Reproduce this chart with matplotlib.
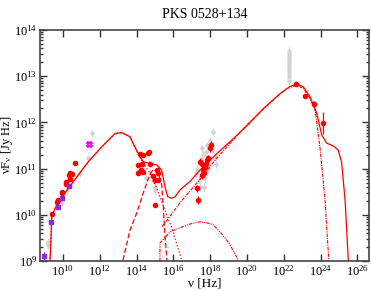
import numpy as np
import matplotlib
matplotlib.use("Agg")
import matplotlib.pyplot as plt
from matplotlib.ticker import LogLocator, NullLocator, NullFormatter

plt.rcParams['font.family'] = ['Liberation Serif', 'DejaVu Serif']
plt.rcParams['mathtext.fontset'] = 'stix'

# model curves, log10(nu) and log10(nuFnu)
tot_x = [9.29, 9.33, 9.39, 9.57, 9.93, 10.29, 10.83, 11.38, 12.10, 12.83, 13.19, 13.64, 14.0, 14.18,
         14.36, 14.73, 15.09, 15.36, 15.54, 15.69, 15.91, 16.09, 16.36, 16.9, 17.45, 18.3, 19.18, 19.98,
         20.89, 21.79, 22.34, 22.7, 23.06, 23.42, 23.79, 24.06, 24.33, 24.69, 24.96, 25.14, 25.33, 25.51]
tot_y = [8.98, 9.31, 9.96, 10.14, 10.39, 10.57, 10.86, 11.15, 11.47, 11.76, 11.78, 11.69, 11.40, 11.26,
         11.15, 11.11, 11.08, 10.97, 10.61, 10.39, 10.36, 10.39, 10.54, 10.72, 10.97, 11.3, 11.62, 11.92,
         12.3, 12.62, 12.78, 12.83, 12.77, 12.56, 12.20, 11.73, 11.55, 11.49, 11.40, 11.14, 10.32, 8.98]

syn_x = [9.29, 9.33, 9.39, 9.57, 9.93, 10.29, 10.83, 11.38, 12.10, 12.83, 13.19, 13.64, 14.0, 14.36,
         14.73, 15.09, 15.45, 15.9, 16.45]
syn_y = [8.98, 9.31, 9.96, 10.14, 10.39, 10.57, 10.86, 11.15, 11.47, 11.76, 11.78, 11.68, 11.37, 11.12,
         10.9, 10.58, 10.2, 9.73, 9.02]

disk_x = [13.26, 13.64, 14.0, 14.36, 14.73, 14.9, 15.09, 15.27, 15.36, 15.45, 15.54, 15.65]
disk_y = [9.02, 9.67, 10.03, 10.47, 10.88, 10.98, 10.94, 10.8, 10.66, 10.18, 9.56, 9.02]

ec_x = [15.38, 16.36, 17.45, 18.3, 19.24, 20.0, 21.0, 21.8, 22.3, 22.7, 23.06, 23.42, 23.7, 23.97,
        24.24, 24.45]
ec_y = [9.74, 10.26, 10.77, 11.2, 11.62, 11.95, 12.33, 12.62, 12.76, 12.8, 12.74, 12.52, 12.27, 11.45,
        10.32, 8.98]

ssc_x = [15.27, 15.27, 15.82, 16.36, 16.9, 17.45, 17.99, 18.17, 18.53, 18.9, 19.08, 19.53]
ssc_y = [9.0, 9.39, 9.63, 9.72, 9.8, 9.85, 9.81, 9.78, 9.63, 9.45, 9.35, 9.02]

# data points
red_x = [9.42, 9.66, 9.71, 9.93, 9.96, 10.15, 10.16, 10.34, 10.38, 10.51, 10.38, 10.65,
         14.18, 14.36, 14.64, 14.69, 14.09, 14.28, 14.73, 14.09, 14.22, 14.33, 15.09, 15.15, 14.9,
         15.0, 15.18, 15.0,
         17.27, 17.35, 17.45, 17.54, 17.62, 17.72, 17.77, 17.9, 17.99, 18.03, 17.57, 17.66, 17.81,
         22.66, 23.17, 23.64, 24.15]
red_y = [10.01, 10.28, 10.32, 10.47, 10.50, 10.67, 10.70, 10.86, 10.91, 10.88, 10.77, 11.13,
         11.32, 11.30, 11.33, 11.37, 11.08, 11.11, 11.10, 10.90, 10.97, 10.93, 10.97, 10.90, 10.83,
         10.75, 10.75, 10.21,
         10.57, 10.32, 11.15, 11.11, 10.97, 11.04, 11.10, 11.22, 11.44, 11.51, 10.86, 10.90, 11.19,
         12.83, 12.57, 12.40, 11.98]
red_err = [0.03] * 28 + [0.08] * 13 + [0.04, 0.04, 0.07, 0.24]

grey_x = [9.17, 9.17, 9.93, 10.2, 10.92, 11.38, 11.56, 14.09, 14.3, 14.5, 14.73, 14.9, 15.0, 15.0,
          17.25, 17.3, 17.4, 17.45, 17.5, 17.55, 17.6, 17.65, 17.7, 17.75, 17.85, 17.9, 18.0, 18.1,
          18.17, 18.25, 18.3,
          22.3, 22.3, 22.3, 22.3, 22.3, 22.3, 22.3, 22.3, 22.3, 22.3, 22.3]
grey_y = [9.42, 9.35, 10.28, 10.54, 10.9, 11.22, 11.76, 10.95, 11.0, 10.8, 10.9, 10.75, 10.61, 10.54,
          10.9, 11.0, 10.75, 10.6, 11.2, 11.44, 11.3, 10.6, 10.8, 11.35, 11.5, 11.0, 11.6, 11.4,
          11.8, 11.25, 11.1,
          12.9, 12.98, 13.05, 13.12, 13.18, 13.25, 13.3, 13.36, 13.42, 13.48, 13.55]

mag_x = [11.34, 11.52, 11.34, 11.52]
mag_y = [11.56, 11.56, 11.49, 11.49]

pur_x = [8.98, 9.35, 9.71, 9.93, 10.34]
pur_y = [9.11, 9.84, 10.16, 10.36, 10.62]

red = '#ff0000'
fig = plt.figure(figsize=(3.71, 2.91), dpi=100)
ax = fig.add_axes([40 / 371, 30 / 291, 329 / 371, 231 / 291])

def lg(v):
    return 10 ** np.array(v)

# grey archival
gy = lg(grey_y)
ax.errorbar(lg(grey_x), gy, yerr=[gy * (1 - 10 ** -0.08), gy * (10 ** 0.08 - 1)], fmt='o', ms=2.2,
            color='#d3d3d3', ecolor='#d3d3d3', elinewidth=0.8, capsize=0, zorder=1)

ax.plot(lg(mag_x), lg(mag_y), '+', ms=3.5, mew=1.2, color='#ff00ff', zorder=3)

ax.plot(lg(tot_x), lg(tot_y), '-', color=red, lw=0.9, zorder=2)
ax.plot(lg(syn_x), lg(syn_y), ':', color=red, lw=0.9, zorder=2)
ax.plot(lg(disk_x), lg(disk_y), '--', color=red, lw=0.9, dashes=(4, 2), zorder=2)
ax.plot(lg(ec_x), lg(ec_y), '-.', color=red, lw=0.8, dashes=(3, 1, 1, 1), zorder=2)
ax.plot(lg(ssc_x), lg(ssc_y), color=red, lw=0.8, dashes=(3, 1, 1, 1, 1, 1), zorder=2)

ry = lg(red_y)
re = np.array(red_err)
ax.errorbar(lg(red_x), ry, yerr=[ry * (1 - 10 ** -re), ry * (10 ** re - 1)], fmt='o', ms=3,
            color=red, ecolor=red, elinewidth=0.9, capsize=0, zorder=4)

ax.plot(lg(pur_x), lg(pur_y), 's', ms=2.5, color='#8a2be2', zorder=5)
ax.errorbar([10 ** 8.98], [10 ** 9.11], yerr=[[10 ** 9.11 - 10 ** 9.03], [10 ** 9.19 - 10 ** 9.11]],
            fmt='none', ecolor='#8a2be2', elinewidth=1, zorder=5)

ax.set_xscale('log')
ax.set_yscale('log')
ax.set_xlim(10 ** 8.75, 10 ** 26.63)
ax.set_ylim(1e9, 1e14)
ax.set_xticks([10.0 ** k for k in range(10, 27, 2)])
ax.xaxis.set_minor_locator(NullLocator())
ax.yaxis.set_major_locator(LogLocator(base=10, numticks=10))
ax.yaxis.set_minor_locator(LogLocator(base=10, subs=np.arange(2, 10), numticks=20))
ax.yaxis.set_minor_formatter(NullFormatter())
ax.tick_params(which='both', direction='in', top=True, right=True, labelsize=9, width=1, color='#333333')
ax.tick_params(which='major', length=5)
ax.tick_params(which='minor', length=2.5)
ax.tick_params(axis='x', pad=2)
ax.tick_params(axis='y', pad=2)
for s in ax.spines.values():
    s.set_linewidth(1.2)
    s.set_color('#444444')

ax.set_title('PKS 0528+134', fontsize=10, pad=9)
fig.text(205 / 371, 1 - 284 / 291, 'ν [Hz]', fontsize=9.5, ha='center', va='center')
fig.text(7.5 / 371, 1 - 145 / 291, r'νF$_{\mathregular{ν}}$ [Jy Hz]', fontsize=9, ha='center',
         va='center', rotation=90)

fig.savefig('out.png', dpi=100)
